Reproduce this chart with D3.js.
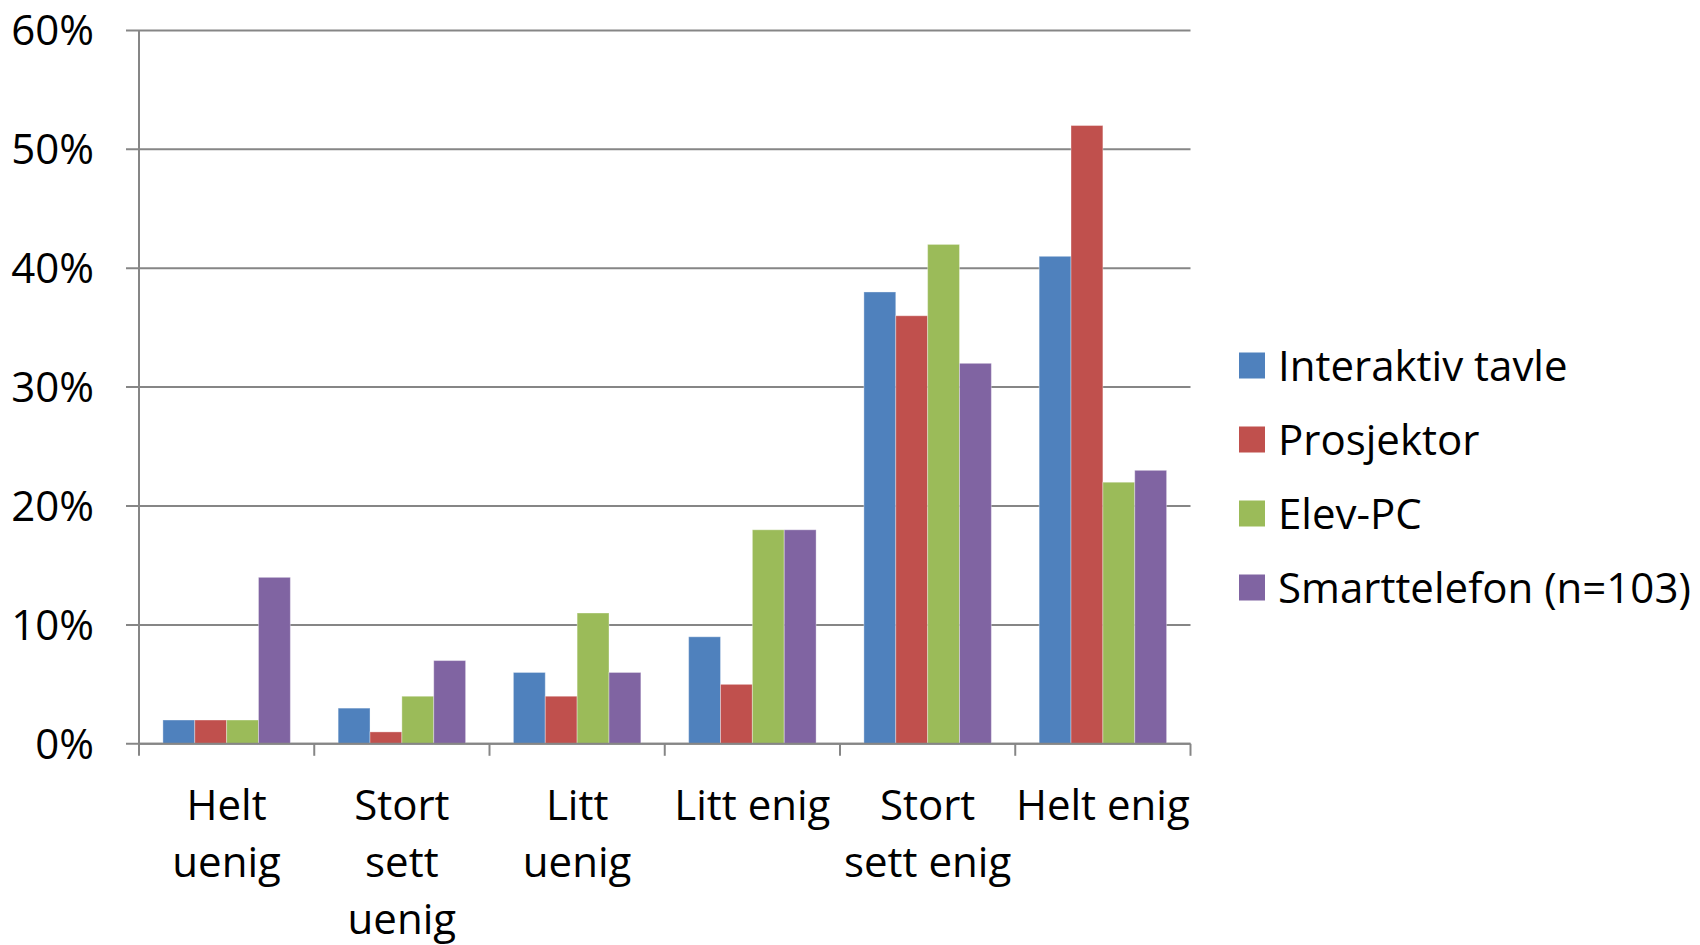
<!DOCTYPE html>
<html>
<head>
<meta charset="utf-8">
<script src="https://cdn.jsdelivr.net/npm/d3@7"></script>
<style>
  body { margin: 0; background: #fff; }
  svg { display: block; font-family: "Open Sans", "Noto Sans", sans-serif; }
</style>
</head>
<body>
<svg id="chart" width="1700" height="945"></svg>
<script>
// categories (line breaks as in the original labels)
var categories = ["Helt\nuenig", "Stort\nsett\nuenig", "Litt\nuenig", "Litt enig", "Stort\nsett enig", "Helt enig"];
var seriesNames = ["Interaktiv tavle", "Prosjektor", "Elev-PC", "Smarttelefon (n=103)"];
var seriesColors = ["#4F81BD", "#C0504D", "#9BBB59", "#8064A2"];
// percent values per series, one per category
var interaktivTavle = [2, 3, 6, 9, 38, 41];
var prosjektor      = [2, 1, 4, 5, 36, 52];
var elevPC          = [2, 4, 11, 18, 42, 22];
var smarttelefon    = [14, 7, 6, 18, 32, 23];
var yTicks = [0, 10, 20, 30, 40, 50, 60];

var seriesValues = [interaktivTavle, prosjektor, elevPC, smarttelefon];

var plot = { left: 139, right: 1190.5, top: 30.4, bottom: 743.8 };
var gridColor = "#868686";
var fontSize = 42;

var svg = d3.select("#chart");

var x = d3.scaleBand()
	.domain(categories)
	.range([plot.left, plot.right])
	.paddingInner(0).paddingOuter(0);

// 4 bars per group, Excel gap width 150% -> 0.75 bar on each side
var xs = d3.scaleBand()
	.domain(seriesNames)
	.range([0, x.bandwidth()])
	.paddingInner(0).paddingOuter(0.75);

var y = d3.scaleLinear()
	.domain([0, 60])
	.range([plot.bottom, plot.top]);

// horizontal gridlines (with the small tick stub to the left of the axis)
svg.append("g").selectAll("line")
	.data(yTicks)
	.join("line")
	.attr("x1", plot.left - 13)
	.attr("x2", plot.right)
	.attr("y1", function(d){ return y(d); })
	.attr("y2", function(d){ return y(d); })
	.attr("stroke", gridColor)
	.attr("stroke-width", 2);

// y labels
svg.append("g").selectAll("text")
	.data(yTicks)
	.join("text")
	.attr("x", 94)
	.attr("y", function(d){ return y(d) + 15; })
	.attr("text-anchor", "end")
	.style("font-size", fontSize + "px")
	.attr("fill", "#000")
	.text(function(d){ return d + "%"; });

// bars
var groups = svg.append("g").selectAll("g")
	.data(categories)
	.join("g")
	.attr("transform", function(d){ return "translate(" + x(d) + ",0)"; });

groups.selectAll("rect")
	.data(function(c, ci){
		return seriesNames.map(function(s, si){ return { series: s, si: si, value: seriesValues[si][ci] }; });
	})
	.join("rect")
	.attr("x", function(d){ return xs(d.series); })
	.attr("width", xs.bandwidth())
	.attr("y", function(d){ return y(d.value); })
	.attr("height", function(d){ return y(0) - y(d.value); })
	.attr("fill", function(d){ return seriesColors[d.si]; })
	.attr("stroke", "rgba(255,255,255,0.35)")
	.attr("stroke-width", 1);

// y axis line
svg.append("line")
	.attr("x1", plot.left).attr("x2", plot.left)
	.attr("y1", plot.top).attr("y2", plot.bottom)
	.attr("stroke", gridColor).attr("stroke-width", 2);

// x axis line and category boundary ticks
svg.append("line")
	.attr("x1", plot.left).attr("x2", plot.right)
	.attr("y1", y(0)).attr("y2", y(0))
	.attr("stroke", gridColor).attr("stroke-width", 2);

var bounds = categories.map(function(c){ return x(c); }).concat([x.range()[1]]);
svg.append("g").selectAll("line")
	.data(bounds)
	.join("line")
	.attr("x1", function(d){ return d; })
	.attr("x2", function(d){ return d; })
	.attr("y1", y(0))
	.attr("y2", y(0) + 12)
	.attr("stroke", gridColor)
	.attr("stroke-width", 2);

// category labels
var catLabels = svg.append("g").selectAll("text")
	.data(categories)
	.join("text")
	.attr("x", function(d){ return x(d) + x.bandwidth() / 2; })
	.attr("y", 820)
	.attr("text-anchor", "middle")
	.style("font-size", fontSize + "px")
	.attr("fill", "#000");

catLabels.each(function(d){
	var t = d3.select(this);
	var cx = x(d) + x.bandwidth() / 2;
	d.split("\n").forEach(function(line, i){
		t.append("tspan")
			.attr("x", cx)
			.attr("dy", i === 0 ? 0 : 57)
			.text(line);
	});
});

// legend
var legend = svg.append("g").selectAll("g")
	.data(seriesNames)
	.join("g")
	.attr("transform", function(d, i){ return "translate(1239," + (365.5 + i * 74) + ")"; });

legend.append("rect")
	.attr("x", 0).attr("y", -13)
	.attr("width", 26).attr("height", 26)
	.attr("fill", function(d, i){ return seriesColors[i]; });

legend.append("text")
	.attr("x", 39)
	.attr("y", 15)
	.style("font-size", fontSize + "px")
	.attr("fill", "#000")
	.text(function(d){ return d; });
</script>
</body>
</html>
